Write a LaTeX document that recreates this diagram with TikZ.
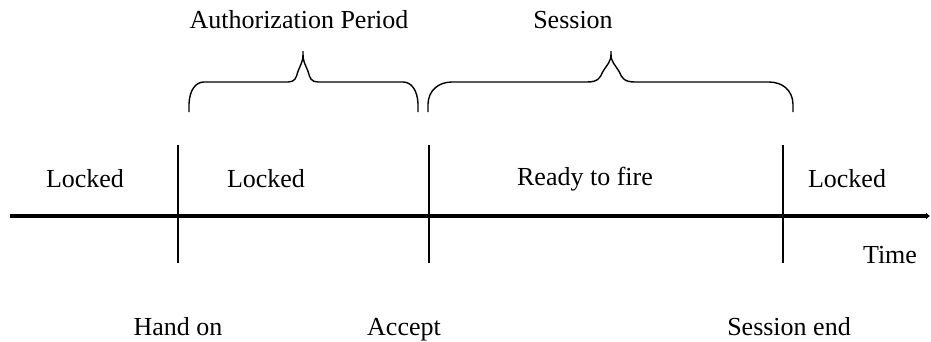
\documentclass[tikz,border=0pt]{standalone}
\usepackage{fontspec}
\setmainfont{Liberation Serif}
\usetikzlibrary{arrows.meta}

% curly brace spanning from #1 to #3 with its tip at #2;
% #4 = width of the end curls, #5 = width of the centre curl
\newcommand\spanbrace[5]{%
  \draw[bracestroke]
    (#1,112) -- (#1,104)
    .. controls +(0.5,-14) and +(-0.55*#4,0) .. (#1+#4,82)
    -- (#2-#5,82)
    .. controls (#2-0.55*#5,82) and (#2-0.45*#5,78) .. (#2-0.35*#5,72)
    .. controls (#2-0.15*#5,64) and (#2,62) .. (#2,54) -- (#2,51)
    (#2,54)
    .. controls (#2,62) and (#2+0.15*#5,64) .. (#2+0.35*#5,72)
    .. controls (#2+0.45*#5,78) and (#2+0.55*#5,82) .. (#2+#5,82)
    -- (#3-#4,82)
    .. controls +(0.55*#4,0) and +(-0.5,-14) .. (#3,104) -- (#3,112);
}

\begin{document}
\begin{tikzpicture}[x=1pt,y=-1pt,
  label/.style={font=\fontsize{26}{30}\selectfont, anchor=base, inner sep=0pt},
  timeline/.style={line width=3.6pt, -{Latex[length=4pt,width=7pt]}},
  tick/.style={line width=1.3pt},
  bracestroke/.style={line width=1.4pt, line join=round}]
  \useasboundingbox (0,0) rectangle (931,341);

  % time axis
  \coordinate (t0) at (10,216);
  \coordinate (t1) at (930,216);
  \draw[timeline] (t0) -- (t1);

  % event markers
  \coordinate (handtop) at (178,145);   \coordinate (handbot) at (178,263);
  \coordinate (acctop) at (429,145);    \coordinate (accbot) at (429,263);
  \coordinate (endtop) at (783,145);    \coordinate (endbot) at (783,263);
  \draw[tick] (handtop) -- (handbot);
  \draw[tick] (acctop) -- (accbot);
  \draw[tick] (endtop) -- (endbot);

  % braces over the periods
  \spanbrace{189}{303}{418}{15}{15}
  \spanbrace{428}{611}{793}{24}{24}

  % period titles
  \node[label] (authp) at (299,28) {Authorization Period};
  \node[label] (sess) at (573,28) {Session};

  % states
  \node[label] (lock1) at (85,187) {Locked};
  \node[label] (lock2) at (266,187) {Locked};
  \node[label] (ready) at (585,185) {Ready to fire};
  \node[label] (lock3) at (847,187) {Locked};
  \node[label] (time) at (890,263) {Time};

  % events
  \node[label] (handon) at (178,335) {Hand on};
  \node[label] (accept) at (404,335) {Accept};
  \node[label] (sessend) at (789,335) {Session end};
\end{tikzpicture}
\end{document}
